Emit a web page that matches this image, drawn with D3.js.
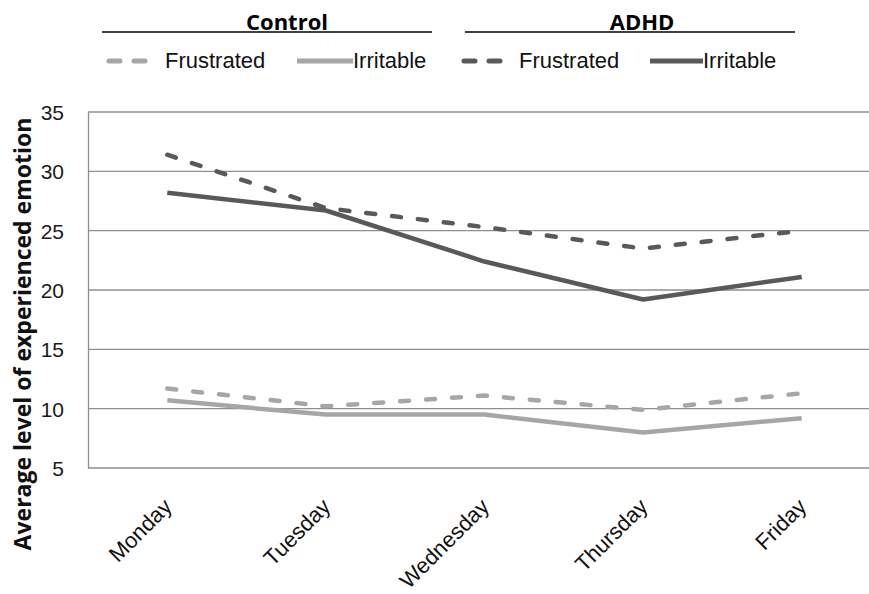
<!DOCTYPE html>
<html><head><meta charset="utf-8">
<script src="https://cdn.jsdelivr.net/npm/d3@7"></script>
<style>body{margin:0;background:#fff;} svg{display:block;font-family:"Liberation Sans",sans-serif;}</style>
</head><body>
<svg id="c" width="869" height="594"></svg>
<script>
const days = ["Monday","Tuesday","Wednesday","Thursday","Friday"];
const yTicks = [5,10,15,20,25,30,35];
const controlFrustrated = [11.7,10.2,11.1,9.9,11.3];
const controlIrritable  = [10.7,9.5,9.5,8.0,9.2];
const adhdFrustrated    = [31.4,26.9,25.3,23.5,25.0];
const adhdIrritable     = [28.2,26.7,22.4,19.2,21.1];
const groups = ["Control","ADHD"];
const seriesNames = ["Frustrated","Irritable"];

const series = [
  {group:"Control", name:"Frustrated", values:controlFrustrated, color:"#a6a6a6", dash:true},
  {group:"Control", name:"Irritable",  values:controlIrritable,  color:"#a6a6a6", dash:false},
  {group:"ADHD",    name:"Frustrated", values:adhdFrustrated,    color:"#595959", dash:true},
  {group:"ADHD",    name:"Irritable",  values:adhdIrritable,     color:"#595959", dash:false}
];

const svg = d3.select("#c");
const mLeft = 88, mRight = 881, mTop = 112, mBottom = 468;
const x = d3.scaleBand().domain(days).range([mLeft, mRight]);
const y = d3.scaleLinear().domain([5,35]).range([mBottom, mTop]);

// gridlines
svg.append("g").selectAll("line").data(yTicks.filter(t=>t>5)).join("line")
  .attr("x1", mLeft).attr("x2", 869).attr("y1", d=>y(d)).attr("y2", d=>y(d))
  .attr("stroke","#8f8f8f").attr("stroke-width",1.3);

// y axis
const ya = svg.append("g").attr("transform",`translate(${mLeft},0)`)
  .call(d3.axisLeft(y).tickValues(yTicks).tickSize(0).tickPadding(24));
ya.select(".domain").attr("stroke","#8f8f8f").attr("stroke-width",1.3);
ya.selectAll("text").attr("font-size",21).attr("fill","#1a1a1a").attr("font-family","Liberation Sans").attr("dy","0.36em");

// x axis
const xa = svg.append("g").attr("transform",`translate(0,${mBottom})`)
  .call(d3.axisBottom(x).tickSize(0).tickFormat(""));
xa.select(".domain").attr("d",`M${mLeft},0H869`).attr("stroke","#8f8f8f").attr("stroke-width",1.3);

svg.append("g").selectAll("text").data(days).join("text")
  .attr("transform", d=>`translate(${x(d)+x.bandwidth()/2+6},${mBottom+40}) rotate(-45)`)
  .attr("text-anchor","end").attr("font-size",22).attr("fill","#111")
  .text(d=>d);

// y title
svg.append("text").attr("transform",`translate(31,334) rotate(-90)`)
  .attr("text-anchor","middle").attr("font-size",23).attr("font-weight","bold").attr("fill","#111")
  .attr("font-family","Open Sans")
  .text("Average level of experienced emotion");

// lines
const line = d3.line().x((d,i)=>x(days[i])+x.bandwidth()/2).y(d=>y(d));
svg.append("g").selectAll("path").data(series).join("path")
  .attr("d", d=>line(d.values)).attr("fill","none")
  .attr("stroke", d=>d.color).attr("stroke-width",4.5)
  .attr("stroke-linecap", d=>d.dash?"round":"butt")
  .attr("stroke-linejoin","round")
  .attr("stroke-dasharray", d=>d.dash?"9,17":null);

// legend
const legendGroups = [
  {name:"Control", x1:102, x2:432, textX:287},
  {name:"ADHD", x1:465, x2:795, textX:642}
];
const lg = svg.append("g");
legendGroups.forEach((g,gi)=>{
  lg.append("line").attr("x1",g.x1).attr("x2",g.x2).attr("y1",32).attr("y2",32).attr("stroke","#000").attr("stroke-width",1.5);
  lg.append("text").attr("x",g.textX).attr("y",29.5).attr("text-anchor","middle")
    .attr("font-family","Open Sans")
    .attr("font-size",22).attr("font-weight","bold").attr("fill","#000").text(g.name);
});
const legendItems = [
  {s:series[0], lx1:109, lx2:150, tx:165},
  {s:series[1], lx1:297, lx2:353, tx:353},
  {s:series[2], lx1:464, lx2:502, tx:519},
  {s:series[3], lx1:650, lx2:703, tx:703}
];
legendItems.forEach(it=>{
  lg.append("line").attr("x1",it.lx1).attr("x2",it.lx2).attr("y1",61).attr("y2",61)
    .attr("stroke",it.s.color).attr("stroke-width",5)
    .attr("stroke-linecap",it.s.dash?"round":"butt")
    .attr("stroke-dasharray",it.s.dash?"11,14":null);
  lg.append("text").attr("x",it.tx).attr("y",68.3).attr("font-size",22).attr("fill","#111")
    .text(it.s.name);
});
</script>
</body></html>
